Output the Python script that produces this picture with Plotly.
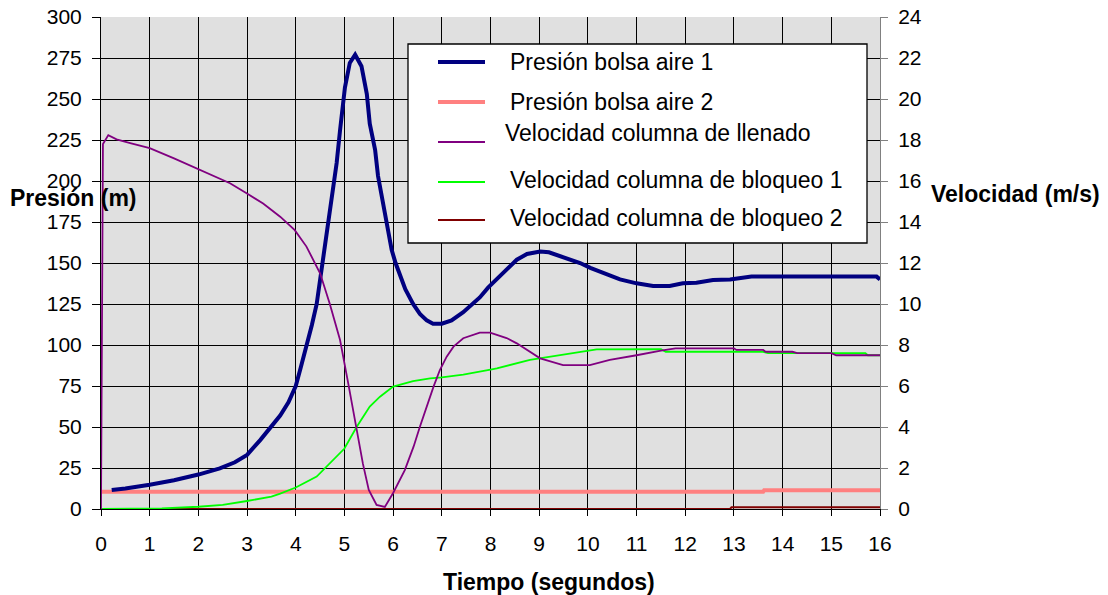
import plotly.graph_objects as go

# ---------------- data ----------------
t_p1 = [0.22, 0.5, 1.0, 1.5, 2.0, 2.44, 2.75, 3.0, 3.27, 3.5, 3.68, 3.85, 4.0, 4.1, 4.22, 4.33, 4.43,
        4.5, 4.57, 4.65, 4.74, 4.84, 4.91, 5.01, 5.11, 5.22, 5.35, 5.46, 5.52, 5.63, 5.69, 5.79, 5.88, 5.97,
        6.05, 6.14, 6.25, 6.41, 6.55, 6.69, 6.82, 7.0, 7.2, 7.44, 7.6, 7.78, 7.95, 8.13, 8.3, 8.54,
        8.75, 9.02, 9.2, 9.36, 9.6, 9.84, 10.05, 10.31, 10.66, 11.0, 11.34, 11.68, 11.95, 12.23,
        12.57, 12.92, 13.36, 15.93, 16.0]
p_aire1 = [11.6, 12.5, 14.8, 17.5, 21.0, 24.8, 28.5, 33.0, 42, 50, 57, 65, 75, 86, 99, 112, 125,
           140, 155, 170, 190, 211, 231, 257, 272, 277, 270, 253, 235, 219, 203, 188, 172, 158,
           150, 142, 134, 125, 119, 115, 113, 113, 115, 120, 124, 129, 135, 140, 145, 152,
           155.5, 157, 156.5, 155, 152.5, 150, 147, 144, 140, 137.6, 136, 136, 137.6, 138,
           139.6, 140, 141.7, 141.7, 140]

t_p2 = [0.0, 13.6, 13.62, 16.0]
p_aire2 = [10.5, 10.5, 11.4, 11.4]

t_vll = [0.0, 0.04, 0.15, 0.32, 0.6, 1.0, 1.5, 2.03, 2.5, 2.65, 2.99, 3.33, 3.68, 3.98, 4.22, 4.5,
         4.7, 4.91, 5.08, 5.25, 5.38, 5.5, 5.66, 5.83, 6.0, 6.24, 6.42, 6.55, 6.69, 6.83, 6.96,
         7.1, 7.24, 7.44, 7.78, 7.99, 8.13, 8.33, 8.54, 8.81, 9.02, 9.49, 10.04, 10.45, 10.86,
         11.0, 11.5, 11.8, 13.0, 13.05, 13.6, 13.65, 14.2, 14.3, 15.0, 15.1, 16.0]
v_llenado = [0.0, 17.8, 18.24, 18.03, 17.85, 17.6, 17.1, 16.54, 16.05, 15.89, 15.4, 14.9, 14.26,
             13.6, 12.8, 11.5, 10.0, 8.24, 6.1, 3.85, 2.2, 0.93, 0.2, 0.1, 0.78, 1.9, 3.04, 4.01,
             5.0, 5.97, 6.78, 7.43, 7.92, 8.33, 8.6, 8.6, 8.49, 8.34, 8.08, 7.67, 7.35, 7.02, 7.02,
             7.27, 7.43, 7.5, 7.72, 7.84, 7.84, 7.76, 7.76, 7.67, 7.67, 7.6, 7.6, 7.5, 7.5]

t_vb1 = [0.0, 1.25, 2.0, 2.5, 3.0, 3.5, 3.68, 4.0, 4.43, 4.7, 5.0, 5.25, 5.52, 5.73, 6.0, 6.41,
         6.76, 7.0, 7.44, 8.0, 8.13, 8.81, 9.02, 9.63, 10.18, 11.5, 11.6, 13.6, 13.7, 15.7,
         15.75, 16.0]
v_bloqueo1 = [0.0, 0.03, 0.11, 0.2, 0.39, 0.6, 0.75, 1.05, 1.58, 2.24, 2.95, 4.0, 5.0, 5.48,
              5.97, 6.24, 6.37, 6.42, 6.56, 6.8, 6.86, 7.27, 7.35, 7.6, 7.79, 7.8, 7.67, 7.67,
              7.6, 7.6, 7.5, 7.5]

t_vb2 = [0.0, 12.92, 12.95, 16.0]
v_bloqueo2 = [0.0, 0.0, 0.08, 0.08]

x_ticks = list(range(0, 17))
y_ticks = list(range(0, 301, 25))
y2_ticks = list(range(0, 25, 2))

names = ["Presión bolsa aire 1", "Presión bolsa aire 2", "Velocidad columna de llenado",
         "Velocidad columna de bloqueo 1", "Velocidad columna de bloqueo 2"]
colors = ["#000080", "#ff8080", "#800080", "#00ff00", "#800000"]
widths = [4, 4, 1.8, 1.8, 2]

# ---------------- figure ----------------
W, H = 1108, 595
L, R, T, B = 101, 880, 17, 509
FONT = "Liberation Sans, Arial, sans-serif"

fig = go.Figure()
fig.add_trace(go.Scatter(x=t_vb2, y=v_bloqueo2, yaxis="y2", mode="lines",
                         line=dict(color=colors[4], width=widths[4]), name=names[4]))
fig.add_trace(go.Scatter(x=t_p2, y=p_aire2, mode="lines",
                         line=dict(color=colors[1], width=widths[1]), name=names[1]))
fig.add_trace(go.Scatter(x=t_vb1, y=v_bloqueo1, yaxis="y2", mode="lines",
                         line=dict(color=colors[3], width=widths[3]), name=names[3]))
fig.add_trace(go.Scatter(x=t_vll, y=v_llenado, yaxis="y2", mode="lines",
                         line=dict(color=colors[2], width=widths[2]), name=names[2]))
fig.add_trace(go.Scatter(x=t_p1, y=p_aire1, mode="lines",
                         line=dict(color=colors[0], width=widths[0]), name=names[0]))

def px2x(px):
    return (px - L) / (R - L)

def py2y(py):
    return (B - py) / (B - T)

shapes = []
annotations = []
# legend box
shapes.append(dict(type="rect", xref="paper", yref="paper",
                   x0=px2x(408), x1=px2x(867), y0=py2y(243), y1=py2y(44),
                   fillcolor="white", line=dict(color="black", width=1.3), layer="above"))
line_y = [62, 102, 142, 182, 220]
text_y = [62, 101.5, 133, 180, 218]
text_x = [508, 508, 503, 508, 508]
for i in range(5):
    shapes.append(dict(type="line", xref="paper", yref="paper",
                       x0=px2x(438), x1=px2x(485), y0=py2y(line_y[i]), y1=py2y(line_y[i]),
                       line=dict(color=colors[i], width=widths[i]), layer="above"))
    annotations.append(dict(text=names[i], xref="paper", yref="paper",
                            x=px2x(text_x[i]), y=py2y(text_y[i]), xanchor="left", yanchor="middle",
                            showarrow=False, font=dict(family=FONT, size=23, color="black")))

# axis titles
annotations.append(dict(text="<b>Presión (m)</b>", xref="paper", yref="paper",
                        x=px2x(8), y=py2y(198), xanchor="left", yanchor="middle",
                        showarrow=False, font=dict(family=FONT, size=23, color="black")))
annotations.append(dict(text="<b>Velocidad (m/s)</b>", xref="paper", yref="paper",
                        x=px2x(929), y=py2y(194), xanchor="left", yanchor="middle",
                        showarrow=False, font=dict(family=FONT, size=23, color="black")))
annotations.append(dict(text="<b>Tiempo (segundos)</b>", xref="paper", yref="paper",
                        x=px2x(441), y=py2y(582), xanchor="left", yanchor="middle",
                        showarrow=False, font=dict(family=FONT, size=23, color="black")))

fig.update_layout(
    width=W, height=H,
    margin=dict(l=L, r=W - R, t=T, b=H - B, autoexpand=False),
    paper_bgcolor="white", plot_bgcolor="#e0e0e0",
    showlegend=False,
    font=dict(family=FONT, size=21, color="black"),
    xaxis=dict(range=[0, 16], tickvals=x_ticks, ticktext=[str(v) for v in x_ticks],
               showgrid=True, gridcolor="black", gridwidth=1, automargin=False,
               ticks="outside", ticklen=6, tickcolor="black",
               showline=True, linecolor="black", linewidth=1, zeroline=False,
               tickfont=dict(family=FONT, size=21, color="black"), ticklabelstandoff=10),
    yaxis=dict(range=[0, 300], tickvals=y_ticks, ticktext=[str(v) for v in y_ticks],
               showgrid=True, gridcolor="black", gridwidth=1, automargin=False,
               ticks="outside", ticklen=8, tickcolor="black",
               showline=True, linecolor="black", linewidth=1, zeroline=False,
               tickfont=dict(family=FONT, size=21, color="black"), ticklabelstandoff=6),
    yaxis2=dict(range=[0, 24], tickvals=y2_ticks, ticktext=[str(v) for v in y2_ticks],
                overlaying="y", side="right", showgrid=False, automargin=False,
                ticks="outside", ticklen=7, tickcolor="#808080",
                showline=True, linecolor="#808080", linewidth=1, zeroline=False,
                tickfont=dict(family=FONT, size=21, color="black"), ticklabelstandoff=6),
    shapes=shapes, annotations=annotations,
)

fig.write_html("out.html", config={"displayModeBar": False},
               post_script="document.body.style.margin='0';document.body.style.padding='0';")
